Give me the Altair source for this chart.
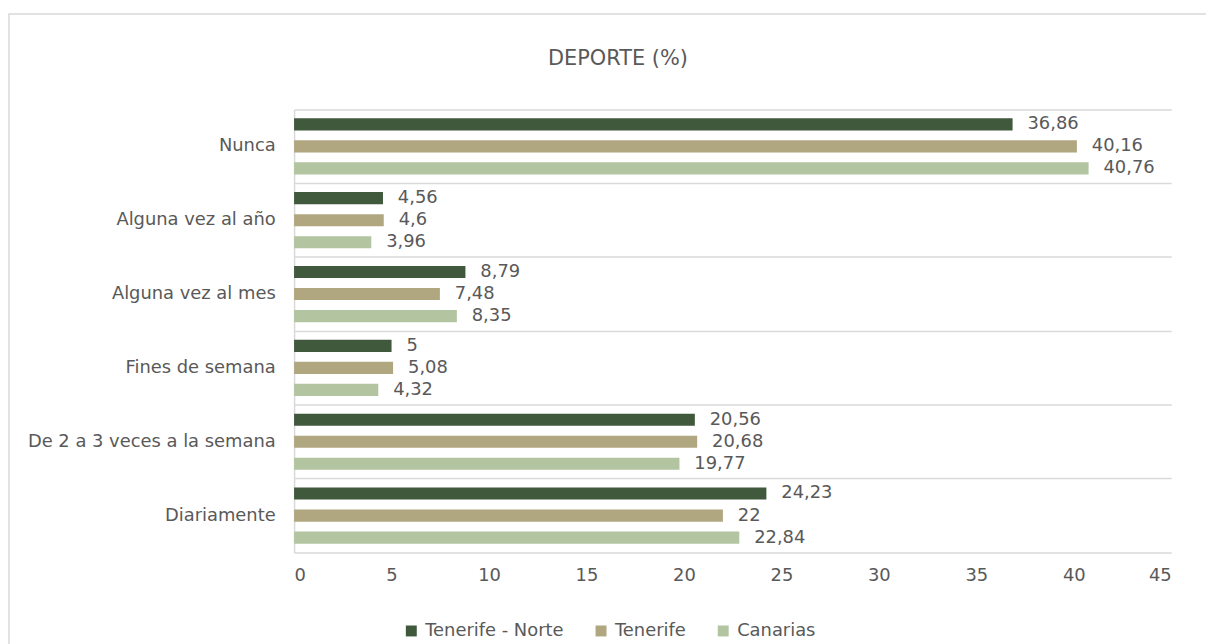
import altair as alt
import pandas as pd

categories = ["Nunca", "Alguna vez al año", "Alguna vez al mes", "Fines de semana",
              "De 2 a 3 veces a la semana", "Diariamente"]
series = ["Tenerife - Norte", "Tenerife", "Canarias"]
tenerife_norte = [36.86, 4.56, 8.79, 5, 20.56, 24.23]
tenerife = [40.16, 4.6, 7.48, 5.08, 20.68, 22]
canarias = [40.76, 3.96, 8.35, 4.32, 19.77, 22.84]
colors = ["#40583C", "#B0A680", "#B2C5A0"]
title_text = "DEPORTE (%)"

rows = []
for s, vals in zip(series, [tenerife_norte, tenerife, canarias]):
    for c, v in zip(categories, vals):
        rows.append({"cat": c, "serie": s, "value": v})
df = pd.DataFrame(rows)

FONT = "DejaVu Sans"
GRAY = "#595959"
LINE = "#D9D9D9"
FS = 18

y = alt.Y("cat:N", sort=categories,
          scale=alt.Scale(paddingInner=0, paddingOuter=0),
          axis=alt.Axis(title=None, ticks=False, domain=True, domainColor=LINE,
                        domainWidth=1.5, grid=True, gridColor=LINE, gridWidth=1.5,
                        bandPosition=0, labelFont=FONT, labelFontSize=FS,
                        labelColor=GRAY, labelPadding=19, labelLimit=400))
yoff = alt.YOffset("serie:N", sort=series,
                   scale=alt.Scale(paddingInner=0.45, paddingOuter=0.4))
x = alt.X("value:Q", scale=alt.Scale(domain=[0, 45], nice=False),
          axis=alt.Axis(title=None, values=list(range(0, 50, 5)), ticks=False,
                        grid=False, domain=True, domainColor=LINE, domainWidth=1.5,
                        labelFont=FONT, labelFontSize=FS, labelColor=GRAY,
                        labelPadding=14))
color = alt.Color("serie:N", sort=series,
                  scale=alt.Scale(domain=series, range=colors),
                  legend=alt.Legend(title=None, orient="none", direction="horizontal",
                                    legendX=109, legendY=516, symbolType="square",
                                    symbolSize=121, symbolStrokeWidth=0,
                                    labelFont=FONT, labelFontSize=FS,
                                    labelColor=GRAY, labelOffset=5,
                                    columnPadding=28))

base = alt.Chart(df)
bars = base.mark_bar(height={"band": 1}).encode(y=y, yOffset=yoff, x=x, color=color)
labels = base.mark_text(align="left", baseline="middle", dx=15, font=FONT,
                        fontSize=FS, color=GRAY).transform_calculate(
    lab="replace(toString(datum.value), '.', ',')"
).encode(y=y, yOffset=yoff, x=x, text="lab:N")

one = pd.DataFrame({"a": [0]})
frame = alt.Chart(one).mark_rect(
    fill=None, stroke=LINE, strokeWidth=1.5, clip=False
).encode(x=alt.value(-287), x2=alt.value(940), y=alt.value(-96), y2=alt.value(600))
title = alt.Chart(one).mark_text(
    font=FONT, fontSize=21, color=GRAY, align="center", baseline="middle"
).encode(x=alt.value(326), y=alt.value(-51), text=alt.value(title_text))

chart = alt.layer(frame, title, bars, labels).properties(
    width=883, height=446,
    padding={"left": 288, "top": 100, "right": 35, "bottom": 92},
    autosize=alt.AutoSizeParams(type="none"),
).configure_view(stroke=None)

chart.save("out.html", embed_options={"renderer": "svg", "actions": False})
